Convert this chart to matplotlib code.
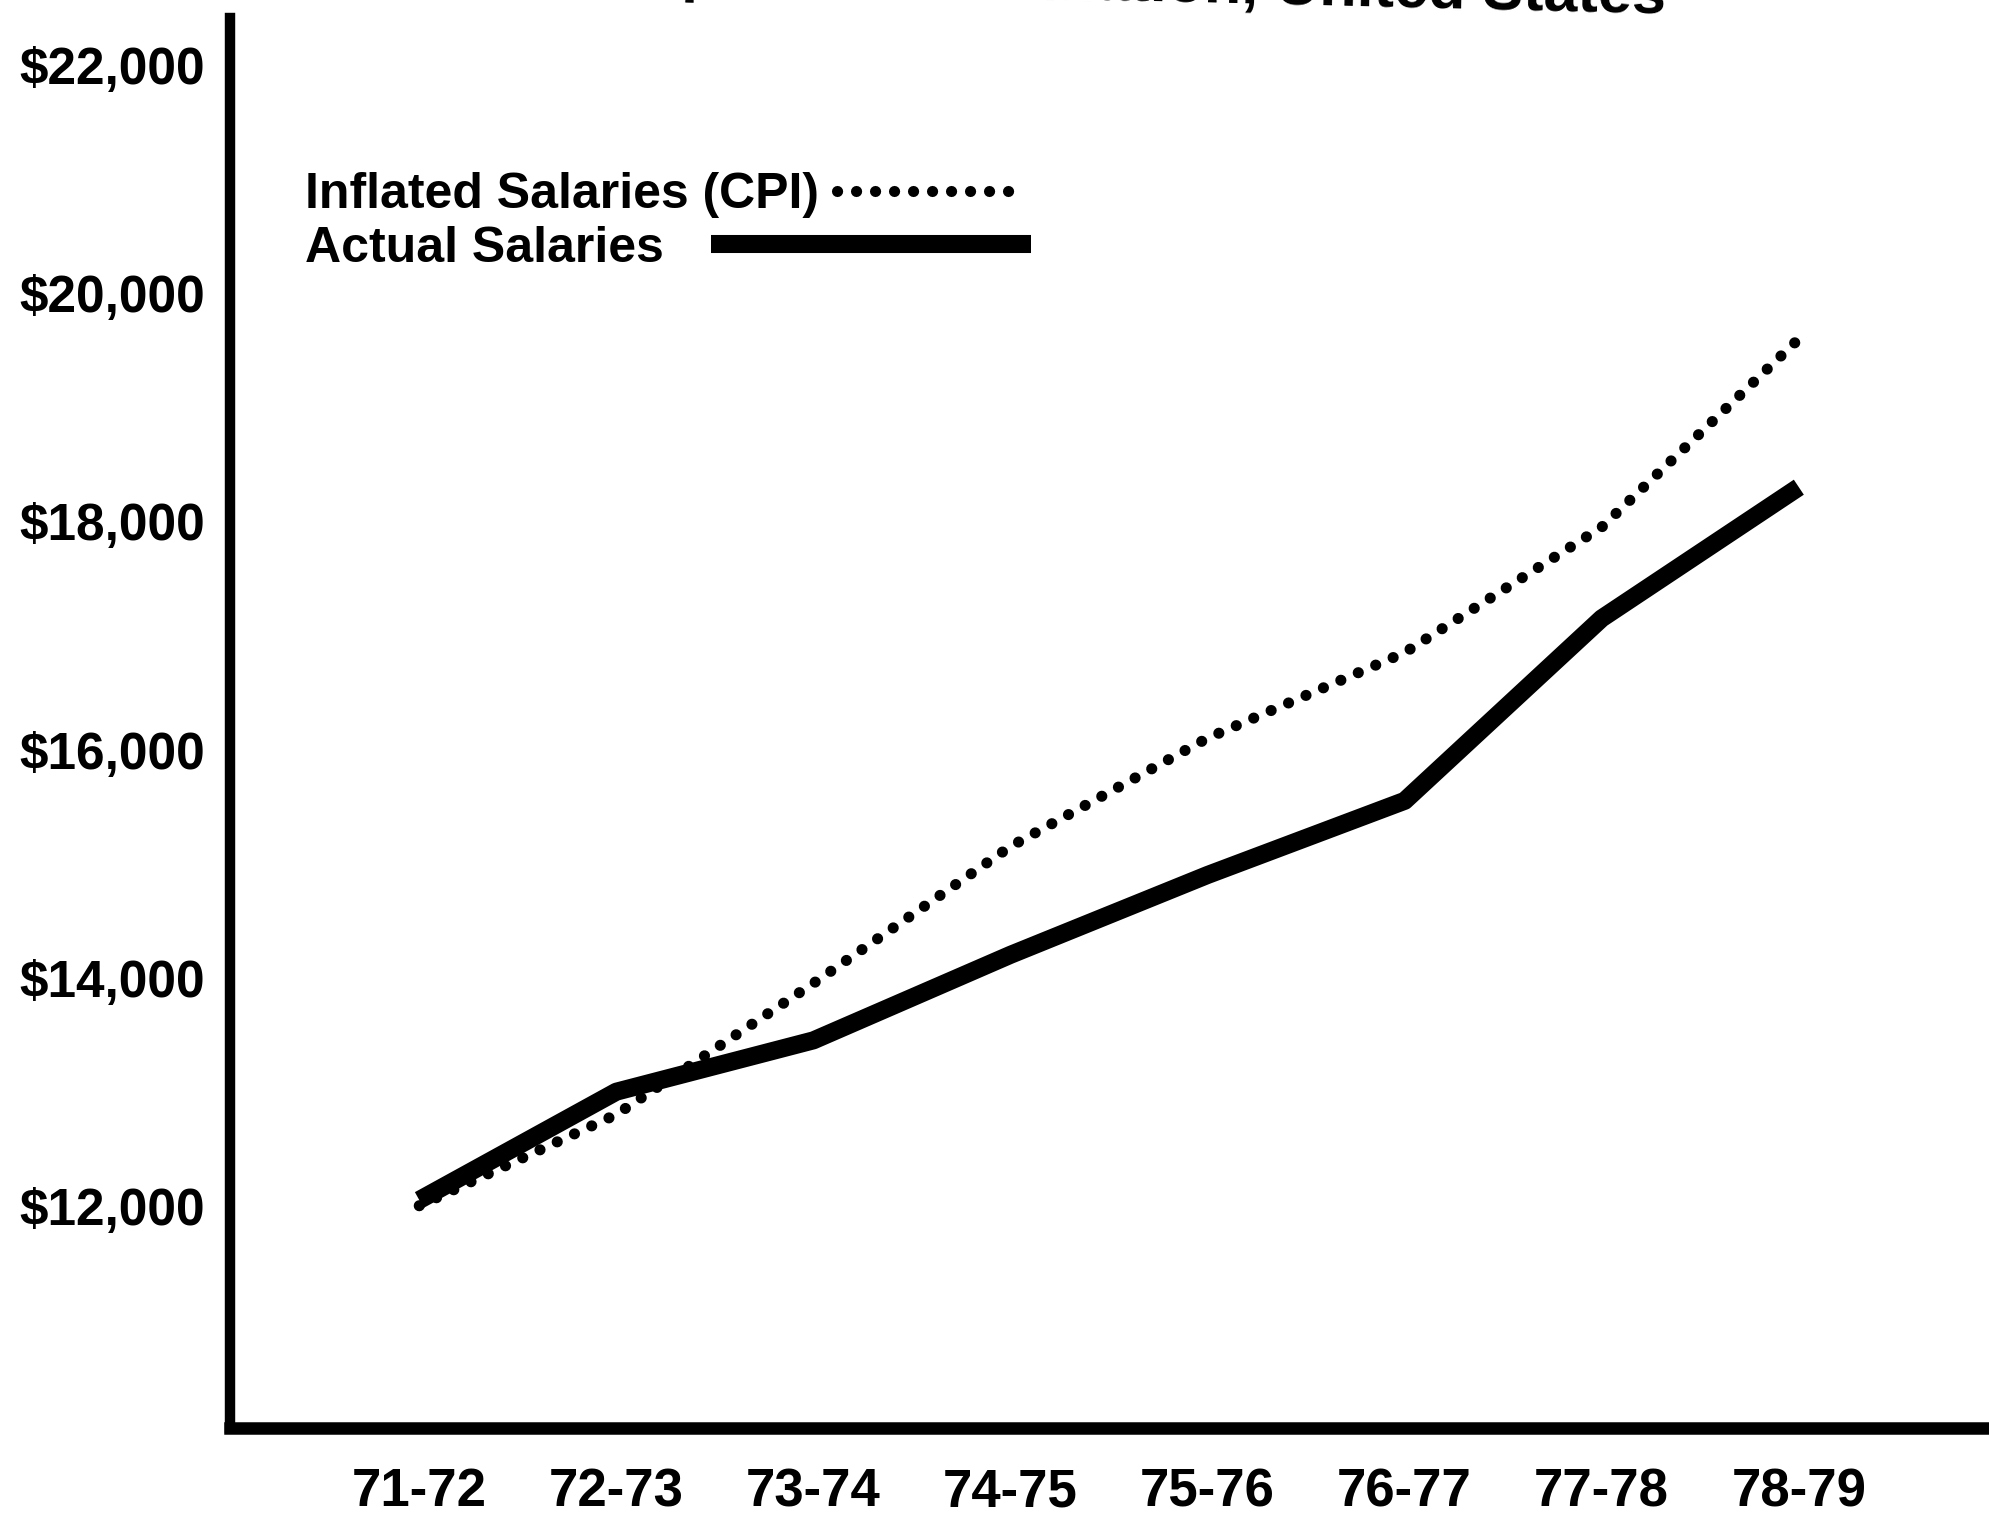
import matplotlib
matplotlib.use("Agg")
import matplotlib.pyplot as plt

# School years and salary values
years = ['71-72', '72-73', '73-74', '74-75', '75-76', '76-77', '77-78', '78-79']
inflated = [12000, 12800, 13950, 15150, 16100, 16850, 17950, 19600]
actual = [12050, 13000, 13450, 14200, 14900, 15550, 17150, 18300]
yticks = [12000, 14000, 16000, 18000, 20000, 22000]

narrow = ['Liberation Sans Narrow', 'Liberation Sans', 'DejaVu Sans']
plt.rcParams['font.family'] = ['Liberation Sans', 'DejaVu Sans']

fig = plt.figure(figsize=(19.9, 15.34), dpi=100)
ax = fig.add_axes([0.1156, 0.069, 0.8844, 0.919])

x = range(len(years))
line_inf, = ax.plot(x, inflated, color='black', linewidth=8, linestyle=(0, (0.01, 1.7)),
                    dash_capstyle='round', label='Inflated Salaries (CPI)')
line_act, = ax.plot(x, actual, color='black', linewidth=13, solid_capstyle='butt',
                    solid_joinstyle='round', label='Actual Salaries')

ax.set_xlim(-0.96, 7.97)
ax.set_ylim(10050, 22410)

ax.set_xticks(list(x))
ax.set_xticklabels(years, fontsize=38, fontweight='bold', family=narrow)
ax.set_yticks(yticks)
ax.set_yticklabels(['${:,}'.format(v) for v in yticks], fontsize=37,
                   fontweight='bold', family=narrow)
ax.tick_params(axis='x', length=0, pad=28)
ax.tick_params(axis='y', length=0, pad=18)

for side in ['top', 'right']:
    ax.spines[side].set_visible(False)
ax.spines['left'].set_linewidth(7.5)
ax.spines['bottom'].set_linewidth(9)

# legend: text first, then the line sample (one legend per entry)
leg1 = ax.legend(handles=[line_inf], loc='upper left', bbox_to_anchor=(0.0426, 0.891),
                 frameon=False, markerfirst=False, handlelength=3.6, handletextpad=0.35,
                 borderpad=0, borderaxespad=0, prop={'weight': 'bold', 'size': 36})
ax.add_artist(leg1)
ax.legend(handles=[line_act], loc='upper left', bbox_to_anchor=(0.0426, 0.853),
          frameon=False, markerfirst=False, handlelength=6.4, handletextpad=0.95,
          borderpad=0, borderaxespad=0, prop={'weight': 'bold', 'size': 36})

# title, cut off by the top edge of the scanned page
fig.text(0.837, 0.991, 'Salaries Compared with Inflation, United States',
         ha='right', va='baseline', fontsize=44, fontweight='bold',
         rotation=-1.4, rotation_mode='anchor')

fig.savefig('out.png', dpi=100)
